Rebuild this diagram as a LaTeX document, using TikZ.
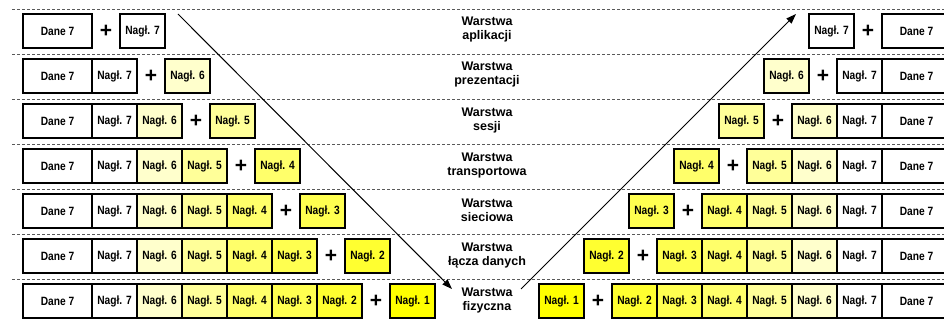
\documentclass[tikz,border=0pt]{standalone}
\usepackage{fontspec}
\setmainfont{Liberation Sans}
\newfontfamily\boxfont[FakeStretch=0.85]{Liberation Sans}
\usetikzlibrary{arrows.meta}
\definecolor{h7}{HTML}{FFFFFF}
\definecolor{h6}{HTML}{FFFFCC}
\definecolor{h5}{HTML}{FFFF99}
\definecolor{h4}{HTML}{FFFF6A}
\definecolor{h3}{HTML}{FFFF50}
\definecolor{h2}{HTML}{FFFF30}
\definecolor{h1}{HTML}{FFFF00}
\begin{document}
\begin{tikzpicture}[x=1pt,y=-1pt,
  hbox/.style={draw=black, line width=1.1pt, minimum width=45pt, minimum height=34pt,
    inner sep=0pt, outer sep=0pt, font=\boxfont\bfseries\fontsize{12}{14}\selectfont},
  dbox/.style={hbox, minimum width=69pt, fill=white},
  plussign/.style={font=\bfseries\fontsize{21}{21}\selectfont, inner sep=0pt},
  layer/.style={font=\bfseries\fontsize{12.5}{14}\selectfont, align=center, inner sep=0pt},
  sepline/.style={dash pattern=on 3pt off 2pt, line width=0.8pt, draw=black!65},
  flow/.style={line width=1pt, -{Triangle[length=10pt,width=7pt]}}]
\useasboundingbox (0,0) rectangle (944,320);
% separators
\foreach \r in {0,...,6}{
  \pgfmathsetmacro\ys{9+45*\r}
  \coordinate (s\r a) at (12,\ys);
  \coordinate (s\r b) at (944,\ys);
  \draw[sepline] (s\r a) -- (s\r b);
}
% rows
\foreach \r in {0,...,6}{
  \pgfmathsetmacro\yc{31+45*\r}
  \node[dbox] (L\r d) at (57.5,\yc) {Dane 7};
  \node[dbox] (R\r d) at (916.5,\yc) {Dane 7};
  \ifnum\r>0
    \pgfmathtruncatemacro\rr{\r-1}
    \foreach \j in {0,...,\rr}{
      \pgfmathsetmacro\xc{92+45*\j+22.5}
      \pgfmathsetmacro\xr{974-\xc}
      \pgfmathtruncatemacro\n{7-\j}
      \node[hbox, fill=h\n] (L\r h\n) at (\xc,\yc) {Nagł. \n};
      \node[hbox, fill=h\n] (R\r h\n) at (\xr,\yc) {Nagł. \n};
    }
  \fi
  \pgfmathtruncatemacro\m{7-\r}
  \pgfmathsetmacro\xs{92+45*\r+28+22.5}
  \pgfmathsetmacro\xsr{974-\xs}
  \pgfmathsetmacro\xp{92+45*\r+14}
  \pgfmathsetmacro\xpr{974-\xp}
  \node[hbox, fill=h\m] (L\r s) at (\xs,\yc) {Nagł. \m};
  \node[hbox, fill=h\m] (R\r s) at (\xsr,\yc) {Nagł. \m};
  \node[plussign] (L\r p) at (\xp,\yc) {+};
  \node[plussign] (R\r p) at (\xpr,\yc) {+};
}
% layer labels
\foreach \r/\nm in {0/aplikacji,1/prezentacji,2/sesji,3/transportowa,4/sieciowa,5/łącza danych,6/fizyczna}{
  \pgfmathsetmacro\yl{30+45*\r}
  \node[layer] (layer\r) at (487,\yl) {Warstwa\\\nm};
}
% arrows
\coordinate (downA) at (178,14);
\coordinate (downB) at (452,289);
\coordinate (upA) at (521,289);
\coordinate (upB) at (796,14);
\draw[flow] (downA) -- (downB);
\draw[flow] (upA) -- (upB);
\end{tikzpicture}
\end{document}
